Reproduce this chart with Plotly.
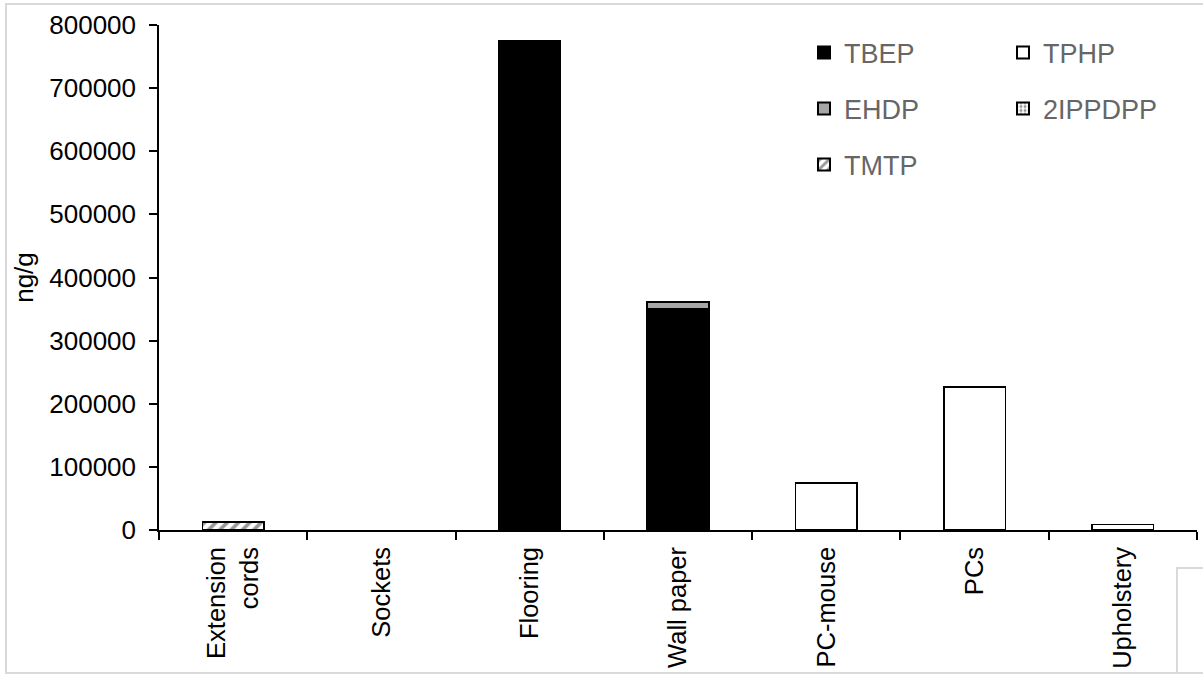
import plotly.graph_objects as go

categories = ["Extension<br>cords", "Sockets", "Flooring", "Wall paper", "PC-mouse", "PCs", "Upholstery"]
TBEP = [None, None, 775000, 348000, None, None, None]
TPHP = [None, None, None, 2500, 74500, 226500, 9000]
EHDP = [None, None, None, 11000, None, None, None]
IPPDPP = [None, None, None, None, None, None, None]
TMTP = [12500, None, None, None, None, None, None]
y_ticks = [0, 100000, 200000, 300000, 400000, 500000, 600000, 700000, 800000]

W, H = 1203, 674
L, R, T, B = 159, 6, 25, 144
pw = W - L - R
ph = H - T - B

def px(x):
    return (x - L) / pw

def py(y):
    return (H - B - y) / ph

line = dict(color="black", width=1.5)
series = [
    ("TBEP", TBEP, dict(color="black", line=line)),
    ("TPHP", TPHP, dict(color="white", line=line)),
    ("EHDP", EHDP, dict(color="#a6a6a6", line=line)),
    ("2IPPDPP", IPPDPP, dict(color="white", line=line,
                             pattern=dict(shape=".", fgcolor="#222222", bgcolor="white", size=5, solidity=0.4))),
    ("TMTP", TMTP, dict(color="white", line=line,
                        pattern=dict(shape="/", fgcolor="#333333", bgcolor="white", size=8, solidity=0.45))),
]
legend_pos = [(829, 53), (1028, 53), (829, 109), (1028, 109), (829, 165)]

fig = go.Figure()
legend_layouts = {}
for i, ((name, vals, marker), (lx, ly)) in enumerate(zip(series, legend_pos)):
    lname = "legend" if i == 0 else f"legend{i+1}"
    fig.add_trace(go.Bar(name=name, x=categories, y=vals, marker=marker, legend=lname))
    legend_layouts[lname] = dict(
        x=px(lx - 25), y=py(ly), xanchor="left", yanchor="middle",
        bgcolor="rgba(0,0,0,0)", borderwidth=0,
        font=dict(family="Liberation Sans, Arial", size=27, color="#666666"),
        itemsizing="constant",
    )

fig.update_layout(
    width=W, height=H,
    margin=dict(l=L, r=R, t=T, b=B, autoexpand=False),
    barmode="stack", bargap=0.585,
    paper_bgcolor="white", plot_bgcolor="white",
    font=dict(family="Liberation Sans, Arial", size=26, color="black"),
    showlegend=True,
    **legend_layouts,
)
fig.update_xaxes(
    showline=True, linecolor="black", linewidth=1.5,
    ticks="outside", tickson="boundaries", ticklen=8, tickcolor="black", tickwidth=1.5,
    tickangle=-90, tickfont=dict(size=25.5, color="black"), showgrid=False,
    ticklabelstandoff=5, automargin=False,
)
fig.update_yaxes(
    range=[0, 800000], tickvals=y_ticks, tickformat="d",
    showline=True, linecolor="black", linewidth=1.5,
    ticks="outside", ticklen=8, tickcolor="black", tickwidth=1.5,
    tickfont=dict(size=26, color="black"), showgrid=False, zeroline=False,
    ticklabelstandoff=8,
    title=dict(text="ng/g", font=dict(size=26, color="black"), standoff=8),
    automargin=False,
)

border = "#d9d9d9"
fig.add_shape(type="rect", xref="paper", yref="paper",
              x0=px(6), x1=px(1212), y0=py(673), y1=py(4),
              line=dict(color=border, width=2), fillcolor="rgba(0,0,0,0)", layer="below")
fig.add_shape(type="rect", xref="paper", yref="paper",
              x0=px(1177), x1=px(1240), y0=py(700), y1=py(568),
              line=dict(color=border, width=2), fillcolor="rgba(0,0,0,0)", layer="below")

fig.write_html("out.html")
